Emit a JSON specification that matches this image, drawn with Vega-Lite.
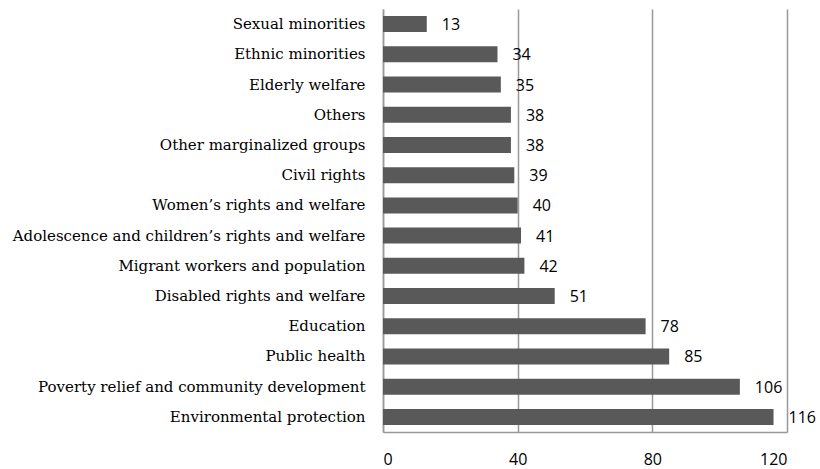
{
  "$schema": "https://vega.github.io/schema/vega-lite/v6.json",
  "autosize": {"type": "none"},
  "width": 404,
  "height": 423,
  "padding": {"left": 383, "top": 9, "right": 33, "bottom": 37},
  "background": "white",
  "data": {
    "values": [
      {"area": "Sexual minorities", "count": 13},
      {"area": "Ethnic minorities", "count": 34},
      {"area": "Elderly welfare", "count": 35},
      {"area": "Others", "count": 38},
      {"area": "Other marginalized groups", "count": 38},
      {"area": "Civil rights", "count": 39},
      {"area": "Women’s rights and welfare", "count": 40},
      {"area": "Adolescence and children’s rights and welfare", "count": 41},
      {"area": "Migrant workers and population", "count": 42},
      {"area": "Disabled rights and welfare", "count": 51},
      {"area": "Education", "count": 78},
      {"area": "Public health", "count": 85},
      {"area": "Poverty relief and community development", "count": 106},
      {"area": "Environmental protection", "count": 116}
    ]
  },
  "encoding": {
    "y": {
      "field": "area",
      "type": "nominal",
      "sort": null,
      "scale": {"paddingInner": 0.47, "paddingOuter": 0.235},
      "axis": {
        "title": null,
        "labelFont": "DejaVu Serif",
        "labelFontSize": 15,
        "labelColor": "#000000",
        "labelPadding": 18,
        "labelLimit": 420,
        "ticks": false,
        "domainColor": "#999999",
        "domainWidth": 1.5
      }
    },
    "x": {
      "field": "count",
      "type": "quantitative",
      "scale": {"domain": [0, 120], "nice": false},
      "axis": {
        "title": null,
        "values": [0, 40, 80, 120],
        "labelFont": "Open Sans",
        "labelFontSize": 16,
        "labelColor": "#000000",
        "labelPadding": 19,
        "ticks": false,
        "grid": true,
        "gridColor": "#999999",
        "gridWidth": 1.5,
        "domainColor": "#999999",
        "domainWidth": 1.5
      }
    }
  },
  "layer": [
    {
      "mark": {"type": "bar", "color": "#595959"}
    },
    {
      "mark": {
        "type": "text",
        "align": "left",
        "baseline": "middle",
        "dx": 15,
        "dy": 1,
        "font": "Open Sans",
        "fontSize": 16,
        "color": "#000000"
      },
      "encoding": {"text": {"field": "count", "type": "quantitative"}}
    }
  ],
  "config": {"view": {"stroke": null}}
}
